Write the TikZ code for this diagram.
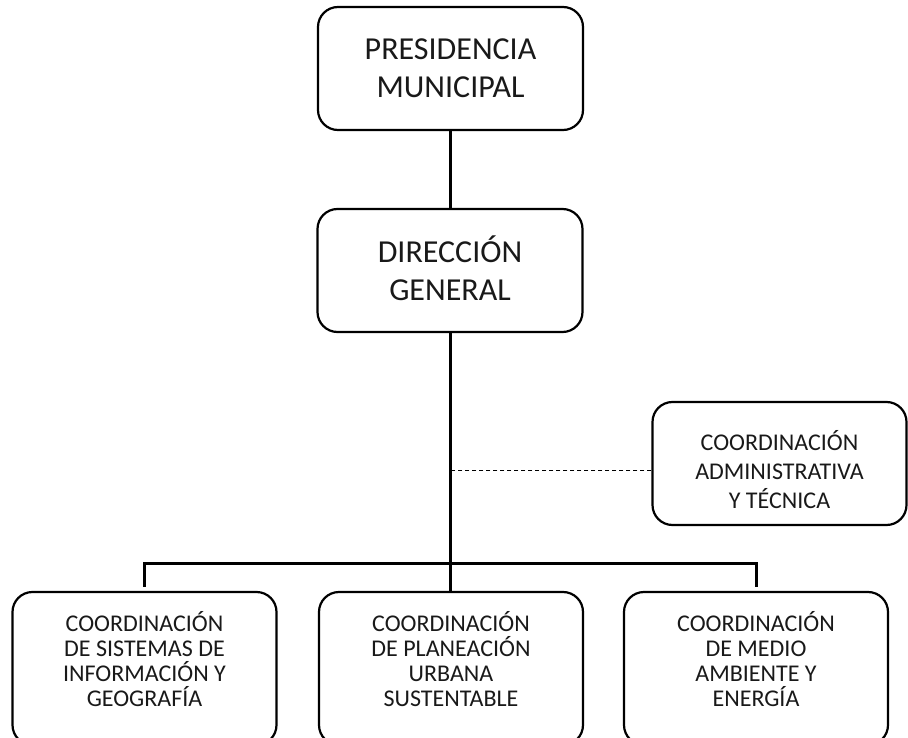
\documentclass[tikz,border=0pt]{standalone}
\usepackage{fontspec}
\setmainfont{Carlito}
\begin{document}
\begin{tikzpicture}[x=1pt,y=-1pt,
  orgbox/.style={draw=black, line width=2.2pt, rounded corners=20pt, align=center, inner sep=0pt, text=black!90},
  bigbox/.style={orgbox, minimum width=265pt, minimum height=123pt, font=\fontsize{32}{38}\selectfont, text height=59pt, text depth=0pt},
  smallbox/.style={orgbox, minimum width=264pt, minimum height=153pt, font=\fontsize{24}{25}\selectfont, text height=89pt, text depth=13pt},
  admbox/.style={orgbox, minimum width=254pt, minimum height=123pt, font=\fontsize{24}{29}\selectfont, text height=89pt, text depth=0pt},
  link/.style={draw=black, line width=3pt},
  dashlink/.style={draw=black, line width=0.8pt, dash pattern=on 4pt off 3pt}]
\useasboundingbox (0,0) rectangle (908,738);
\node[bigbox] (pres) at (450.5,68.5) {PRESIDENCIA\\MUNICIPAL};
\node[bigbox] (dir) at (450,270.5) {DIRECCIÓN\\GENERAL};
\node[admbox] (adm) at (779.5,463.5) {COORDINACIÓN\\ADMINISTRATIVA\\Y TÉCNICA};
\node[smallbox] (b1) at (144.5,668.5) {COORDINACIÓN\\DE SISTEMAS DE\\INFORMACIÓN Y\\GEOGRAFÍA};
\node[smallbox] (b2) at (451,668.5) {COORDINACIÓN\\DE PLANEACIÓN\\URBANA\\SUSTENTABLE};
\node[smallbox] (b3) at (756,668.5) {COORDINACIÓN\\DE MEDIO\\AMBIENTE Y\\ENERGÍA};
\coordinate (bar) at (0,563);
\draw[link] (pres.south) -- (pres.south |- dir.north);
\draw[link] (dir.south) -- (dir.south |- b2.north);
\draw[link] ([yshift=4pt]b1.north) -- (b1.north |- bar) -- (b3.north |- bar) -- ([yshift=4pt]b3.north);
\draw[dashlink] ([yshift=-6.5pt]adm.west) -- ([yshift=-6.5pt]adm.west -| dir.south);
\end{tikzpicture}
\end{document}
